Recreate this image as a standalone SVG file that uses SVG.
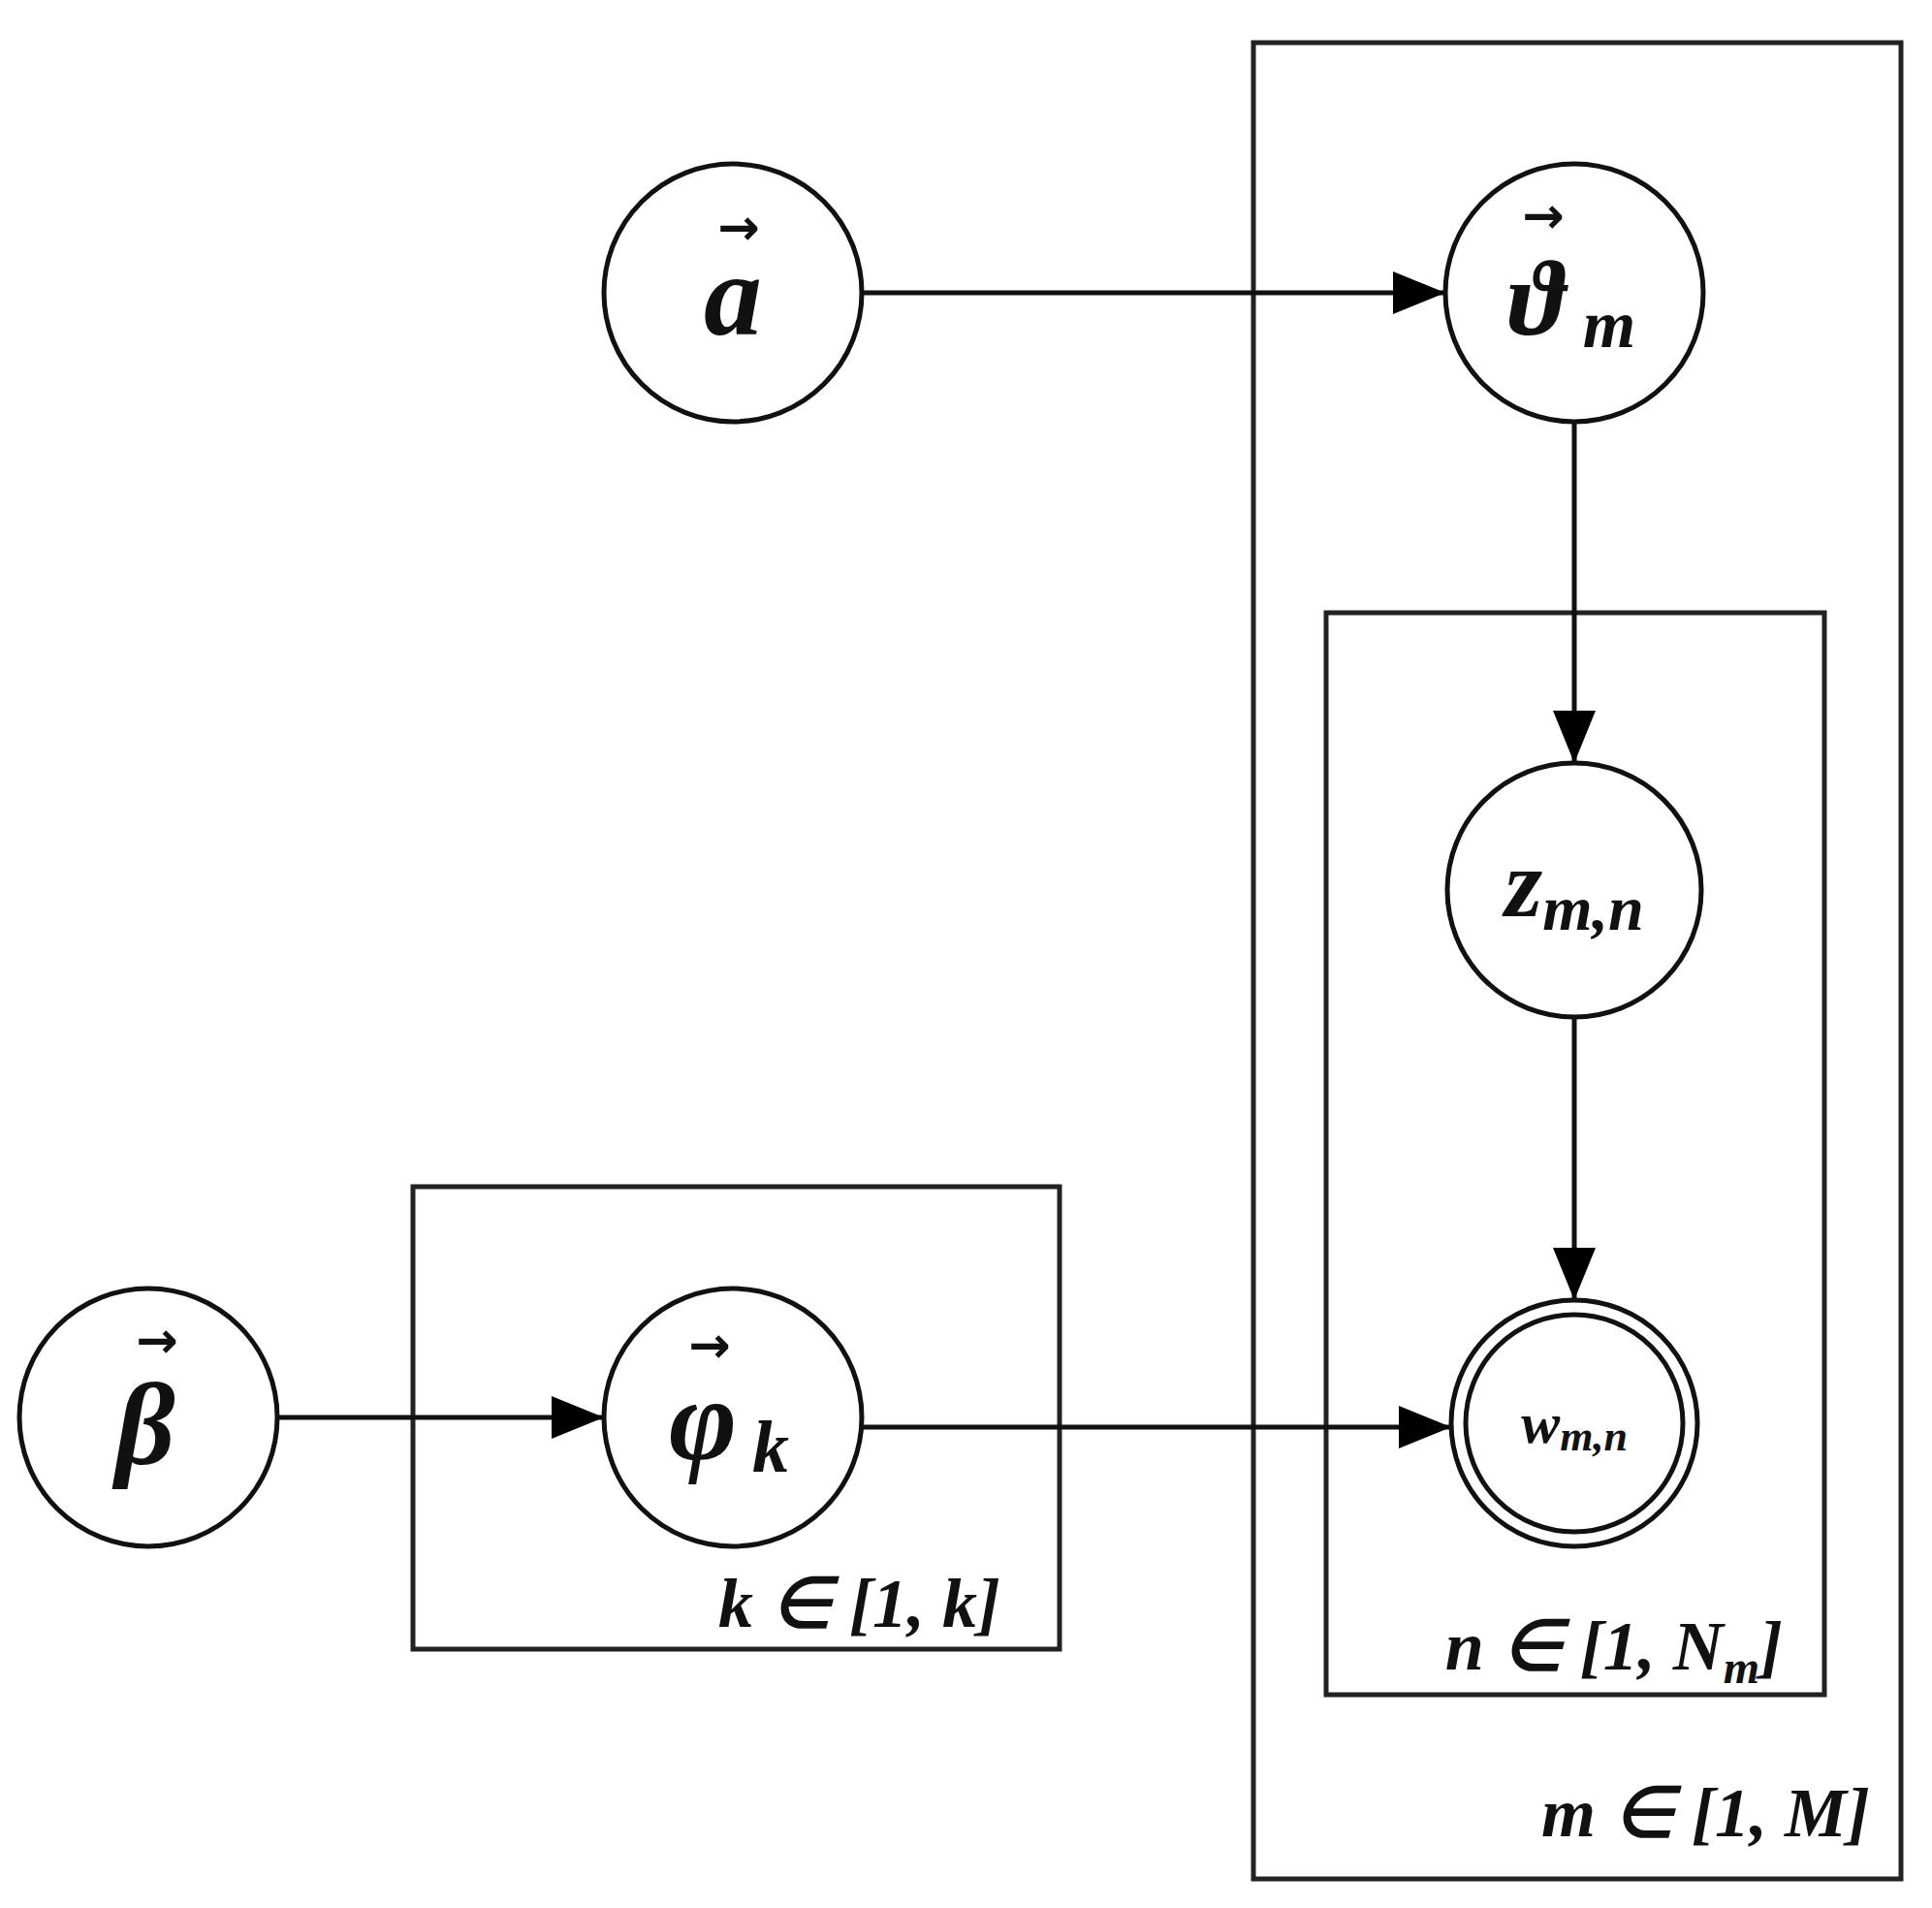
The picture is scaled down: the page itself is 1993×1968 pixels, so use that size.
<svg xmlns="http://www.w3.org/2000/svg" width="1993" height="1968" viewBox="0 0 1993 1968">
<defs>
<marker id="ah" viewBox="0 0 54 44" refX="54" refY="22" markerWidth="54" markerHeight="44" markerUnits="userSpaceOnUse" orient="auto">
<path d="M0,0 L54,22 L0,44 z" fill="#000"/>
</marker>
<style>
.n{fill:#fff;stroke:#111;stroke-width:5}
.p{fill:none;stroke:#222;stroke-width:5}
.c{stroke:#111;stroke-width:5;fill:none}
.t{font-family:"Liberation Serif",serif;font-style:italic;font-weight:bold;fill:#111;text-anchor:middle}
.v{font-family:"DejaVu Sans",sans-serif;font-weight:bold;fill:#111;text-anchor:middle;font-size:52px}
.l{font-family:"Liberation Serif",serif;font-style:italic;font-weight:bold;fill:#111;font-size:72px;text-anchor:end}
</style>
</defs>
<rect width="1993" height="1968" fill="#fff"/>
<g id="plates">
<rect class="p" x="1293" y="44" width="668" height="1894"/>
<rect class="p" x="1368" y="632" width="514" height="1116"/>
<rect class="p" x="426" y="1224" width="667" height="477"/>
<text class="l" x="1032" y="1678">k ∈ [1, k]</text>
<text class="l" x="1839" y="1722">n ∈ [1, N<tspan font-size="48" dy="14">m</tspan><tspan dy="-14">]</tspan></text>
<text class="l" x="1929" y="1894">m ∈ [1, M]</text>
</g>
<g id="connectors">
<line class="c" x1="889" y1="302" x2="1491" y2="302" marker-end="url(#ah)"/>
<line class="c" x1="1624" y1="435" x2="1624" y2="787" marker-end="url(#ah)"/>
<line class="c" x1="1624" y1="1049" x2="1624" y2="1341" marker-end="url(#ah)"/>
<line class="c" x1="286" y1="1462" x2="623" y2="1462" marker-end="url(#ah)"/>
<line class="c" x1="889" y1="1472" x2="1497" y2="1472" marker-end="url(#ah)"/>
</g>
<g id="alpha"><circle class="n" cx="756" cy="302" r="133"/><text class="t" x="756" y="345" font-size="120">a</text><text class="v" x="762" y="252">→</text></g>
<g id="theta"><circle class="n" cx="1624" cy="302" r="133"/><text class="t" x="1585" y="345" font-size="110">ϑ</text><text class="v" x="1592" y="240">→</text><text class="t" x="1660" y="358" font-size="70">m</text></g>
<g id="z"><circle class="n" cx="1624" cy="918" r="131"/><text class="t" x="1624" y="945" font-size="100">z<tspan font-size="66" dy="14">m,n</tspan></text></g>
<g id="w"><circle class="n" cx="1624" cy="1468" r="127"/><circle class="n" cx="1624" cy="1468" r="112"/><text class="t" x="1624" y="1488" font-size="60">w<tspan font-size="44" dy="8">m,n</tspan></text></g>
<g id="beta"><circle class="n" cx="153" cy="1462" r="133"/><text class="t" x="150" y="1510" font-size="120">β</text><text class="v" x="162" y="1400">→</text></g>
<g id="phi"><circle class="n" cx="756" cy="1462" r="133"/><text class="t" x="725" y="1505" font-size="120">φ</text><text class="v" x="732" y="1405">→</text><text class="t" x="795" y="1518" font-size="76">k</text></g>
</svg>
